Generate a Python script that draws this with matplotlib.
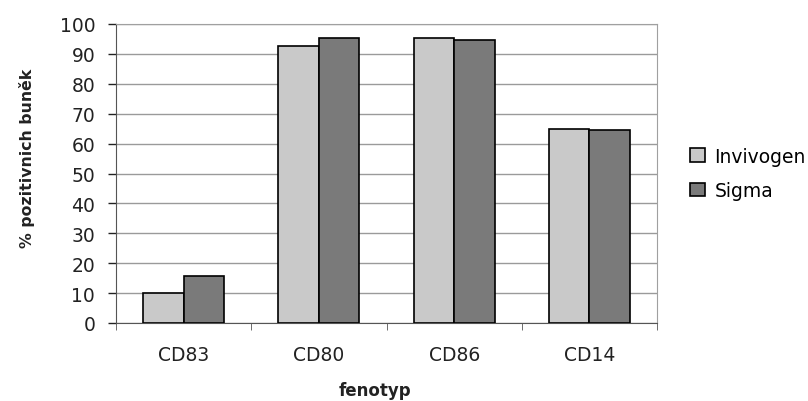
import matplotlib
matplotlib.use('Agg')
import matplotlib.pyplot as plt
import numpy as np

plt.rcParams['font.family'] = ['DejaVu Sans']

# data
categories = ['CD83', 'CD80', 'CD86', 'CD14']
series_names = ['Invivogen', 'Sigma']
invivogen = [10.2, 92.8, 95.2, 65.0]
sigma = [15.8, 95.2, 94.5, 64.4]
y_ticks = list(range(0, 101, 10))

colors = ['#c9c9c9', '#7a7a7a']

W, H = 808, 402
fig = plt.figure(figsize=(W / 100, H / 100), dpi=100, facecolor='white')
ax = fig.add_axes([116 / W, 1 - 324 / H, (657 - 116) / W, (324 - 25) / H])

x = np.arange(len(categories))
w = 0.3
for i, (vals, name) in enumerate(zip([invivogen, sigma], series_names)):
    ax.bar(x + (i - 0.5) * w, vals, width=w, color=colors[i], edgecolor='black',
           linewidth=1.2, label=name, zorder=3)

ax.set_xlim(-0.5, len(categories) - 0.5)
ax.set_ylim(0, 100)
ax.set_yticks(y_ticks)
ax.set_xticks(x)
ax.set_xticklabels(categories)
ax.tick_params(axis='both', labelsize=13.5, colors='#222222', length=6, width=1)
ax.tick_params(axis='y', pad=9)
ax.tick_params(axis='x', length=0, pad=16)
ax.set_xticks(np.arange(len(categories) + 1) - 0.5, minor=True)
ax.tick_params(axis='x', which='minor', length=5, color='#555555')

ax.yaxis.grid(True, color='#9a9a9a', linewidth=1, zorder=0)
for side in ['top', 'right']:
    ax.spines[side].set_color('#a0a0a0')
for side in ['left', 'bottom']:
    ax.spines[side].set_color('#555555')

# axis titles placed in figure pixels
fig.text(27 / W, 1 - 158 / H, '% pozitivnich buněk', rotation=90, ha='center', va='center',
         fontsize=11.3, fontweight='bold', color='#222222')
fig.text(375 / W, 1 - 391 / H, 'fenotyp', ha='center', va='center',
         fontsize=12, fontweight='bold', color='#222222')

ax.legend(loc='center left', bbox_to_anchor=(1.047, 0.50), frameon=False, fontsize=13.5,
          handlelength=0.8, handleheight=0.7, handletextpad=0.5, labelspacing=0.85,
          borderaxespad=0)

fig.savefig('out.png', dpi=100, facecolor='white')
